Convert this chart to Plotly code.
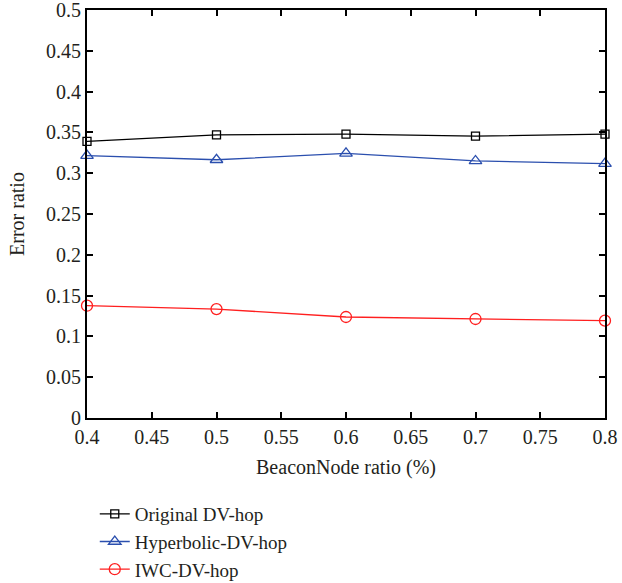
import plotly.graph_objects as go

x_vals = [0.4, 0.5, 0.6, 0.7, 0.8]
original_dv_hop = [0.339, 0.347, 0.348, 0.3455, 0.348]
hyperbolic_dv_hop = [0.3215, 0.3165, 0.3243, 0.315, 0.3117]
iwc_dv_hop = [0.1376, 0.1335, 0.1238, 0.1213, 0.1193]

x_ticks = [0.4, 0.45, 0.5, 0.55, 0.6, 0.65, 0.7, 0.75, 0.8]
y_ticks = [0, 0.05, 0.1, 0.15, 0.2, 0.25, 0.3, 0.35, 0.4, 0.45, 0.5]

font_family = "Liberation Serif, DejaVu Serif, serif"
text_color = "#231f20"

fig = go.Figure()
fig.add_trace(go.Scatter(
    x=x_vals, y=original_dv_hop, mode="lines+markers", name="Original DV-hop",
    line=dict(color="#000000", width=1.3), cliponaxis=False,
    marker=dict(symbol="square-open", size=8, color="#000000", line=dict(width=1.3)),
))
fig.add_trace(go.Scatter(
    x=x_vals, y=hyperbolic_dv_hop, mode="lines+markers", name="Hyperbolic-DV-hop",
    line=dict(color="#2b4fae", width=1.3), cliponaxis=False,
    marker=dict(symbol="triangle-up-open", size=11, color="#2b4fae", line=dict(width=1.3)),
))
fig.add_trace(go.Scatter(
    x=x_vals, y=iwc_dv_hop, mode="lines+markers", name="IWC-DV-hop",
    line=dict(color="#ff1f1f", width=1.3), cliponaxis=False,
    marker=dict(symbol="circle-open", size=11, color="#ff1f1f", line=dict(width=1.3)),
))

axis_common = dict(
    showline=True, linecolor="#000000", linewidth=2, mirror="ticks",
    ticks="inside", ticklen=6, tickwidth=1.5, tickcolor="#000000",
    showgrid=False, zeroline=False, automargin=False,
    ticklabeloverflow="allow",
    tickfont=dict(family=font_family, size=20, color=text_color),
)

fig.update_layout(
    width=622, height=583,
    margin=dict(l=87, r=17, t=10, b=165),
    plot_bgcolor="white", paper_bgcolor="white",
    font=dict(family=font_family, size=20, color=text_color),
    xaxis=dict(range=[0.4, 0.8], tickvals=x_ticks,
               ticktext=[f"{v:g}" for v in x_ticks],
               title=dict(text="BeaconNode ratio (%)", font=dict(family=font_family, size=20, color=text_color), standoff=13),
               **axis_common),
    yaxis=dict(range=[0, 0.5], tickvals=y_ticks,
               ticktext=[f"{v:g}" for v in y_ticks],
               title=dict(text="Error ratio", font=dict(family=font_family, size=20, color=text_color), standoff=16),
               **axis_common),
    legend=dict(x=0.015, xref="paper", y=0.151, yref="container",
                xanchor="left", yanchor="top",
                font=dict(family=font_family, size=19, color=text_color),
                bgcolor="rgba(0,0,0,0)", tracegroupgap=0, itemwidth=30),
    showlegend=True,
)

fig.write_html("out.html", config={"displayModeBar": False},
               post_script="document.body.style.margin='0';")
